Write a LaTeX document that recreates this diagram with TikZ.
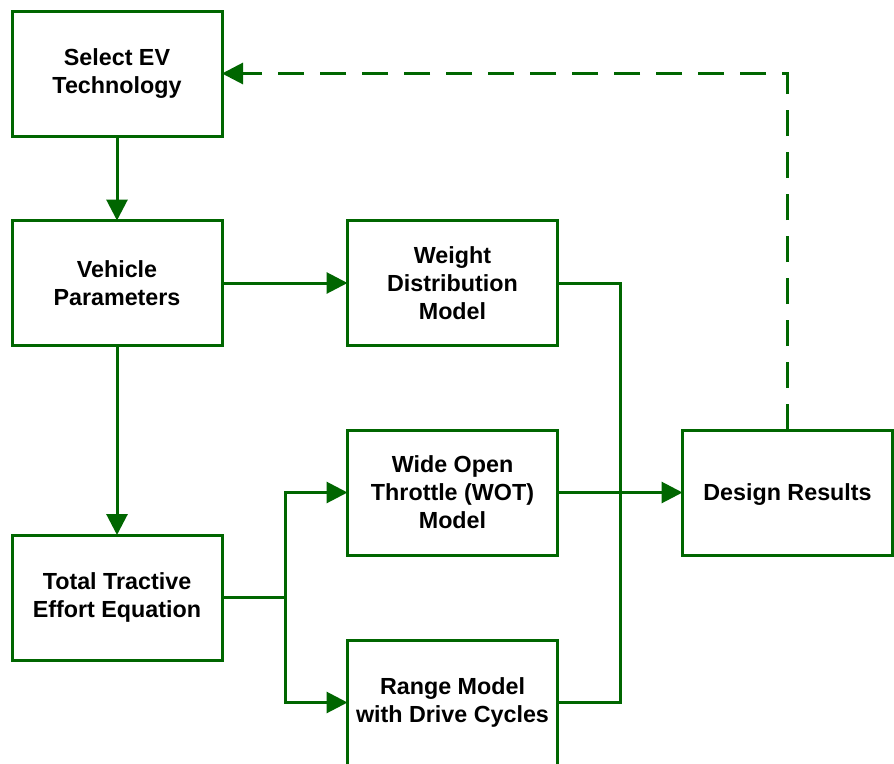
\documentclass[tikz,border=0pt]{standalone}
\usepackage{fontspec}
\setmainfont{Liberation Sans}
\usetikzlibrary{arrows.meta}
\definecolor{dkgreen}{RGB}{0,102,0}
\begin{document}
\begin{tikzpicture}[x=1pt,y=-1pt,
  box/.style={draw=dkgreen, line width=3pt, fill=white, minimum width=210pt, minimum height=125pt,
    inner sep=0pt, outer sep=0pt, align=center, text=black,
    font=\fontsize{23.3}{28}\selectfont\bfseries,
    execute at begin node={\rule{0pt}{21pt}}},
  link/.style={draw=dkgreen, line width=3pt},
  arr/.style={link, -{Triangle[length=21pt,width=21pt]}},
  fb/.style={arr, dash pattern=on 26pt off 16pt}]
\clip (0,0) rectangle (894,763);
\fill[white] (0,0) rectangle (894,763);
\node[box] (sel) at (117,73.5) {Select EV\\Technology};
\node[box] (veh) at (117,283) {Vehicle\\Parameters};
\node[box] (wgt) at (452.5,283) {Weight\\Distribution\\Model};
\node[box] (wot) at (452.5,492.5) {Wide Open\\Throttle (WOT)\\Model};
\node[box] (des) at (787.5,492.5) {Design Results};
\node[box] (tte) at (117,597.5) {Total Tractive\\Effort Equation};
\node[box] (rng) at (452.5,702.5) {Range Model\\with Drive Cycles};
\coordinate (br) at (285,597.5);
\coordinate (jn) at (620.5,283);
\draw[arr] (sel) -- (veh);
\draw[arr] (veh) -- (wgt);
\draw[arr] (veh) -- (tte);
\draw[link] (tte.east) -- (br);
\draw[arr] (br) |- (wot.west);
\draw[arr] (br) |- (rng.west);
\draw[link] (wgt.east) -- (jn) |- (rng.east);
\draw[arr] (wot) -- (des);
\draw[fb] (des.north) |- (sel.east);
\end{tikzpicture}
\end{document}
